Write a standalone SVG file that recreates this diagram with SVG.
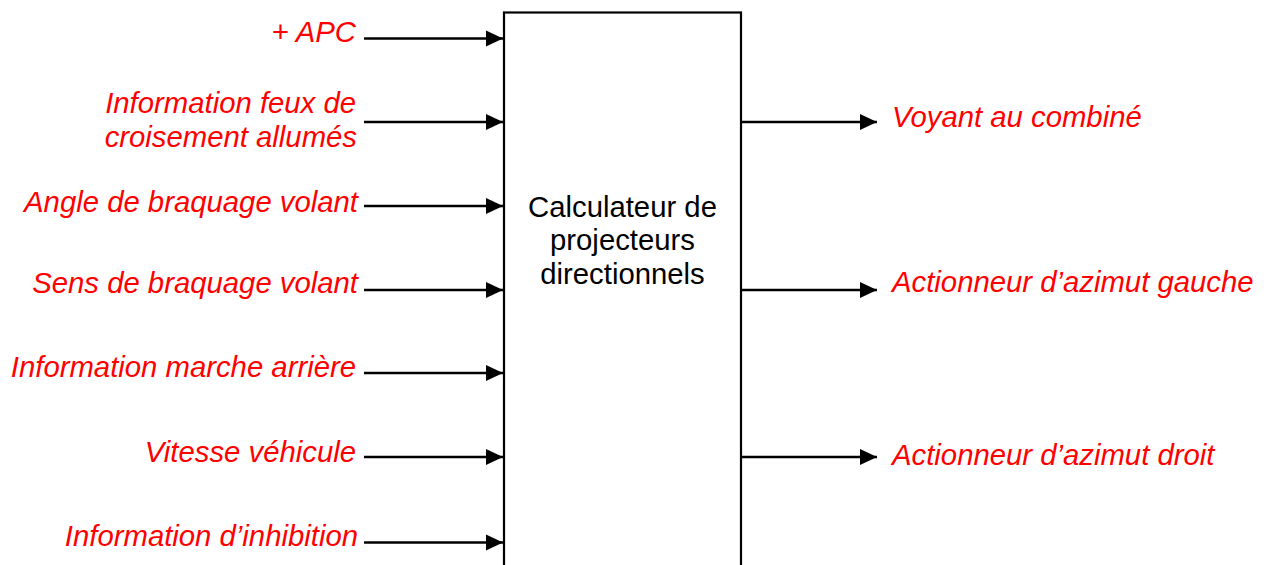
<svg xmlns="http://www.w3.org/2000/svg" width="1268" height="565" viewBox="0 0 1268 565">
<style>
.lbl{font-family:"Liberation Sans",Arial,sans-serif;font-style:italic;font-size:29.3px;fill:#FF0000}
.in{text-anchor:end}
.box{fill:#FFFFFF;stroke:#000000;stroke-width:2.2}
.boxtxt{font-family:"Liberation Sans",Arial,sans-serif;font-size:29.3px;fill:#000000;text-anchor:middle}
.conn{stroke:#000000;stroke-width:2.6;fill:none;marker-end:url(#arr)}
</style>
<defs>
<marker id="arr" markerUnits="userSpaceOnUse" markerWidth="17" markerHeight="16" refX="17" refY="8" orient="auto" viewBox="0 0 17 16" overflow="visible">
<path d="M0,0 L17,8 L0,16 Z" fill="#000000"/>
</marker>
</defs>
<rect width="1268" height="565" fill="#FFFFFF"/>
<g id="node-calculateur">
<rect class="box" x="504" y="12.5" width="237" height="600"/>
<text class="boxtxt" x="622.5" y="216.7">Calculateur de</text>
<text class="boxtxt" x="622.5" y="250.2">projecteurs</text>
<text class="boxtxt" x="622.5" y="283.7">directionnels</text>
</g>
<g id="connectors">
<line class="conn" x1="364" y1="38.5" x2="503" y2="38.5"/>
<line class="conn" x1="364" y1="122" x2="503" y2="122"/>
<line class="conn" x1="364" y1="206" x2="503" y2="206"/>
<line class="conn" x1="364" y1="290" x2="503" y2="290"/>
<line class="conn" x1="364" y1="373" x2="503" y2="373"/>
<line class="conn" x1="364" y1="457" x2="503" y2="457"/>
<line class="conn" x1="364" y1="542.5" x2="503" y2="542.5"/>
<line class="conn" x1="741" y1="122" x2="877" y2="122"/>
<line class="conn" x1="741" y1="290" x2="877" y2="290"/>
<line class="conn" x1="741" y1="457" x2="877" y2="457"/>
</g>
<g id="in-apc"><text class="lbl in" x="356" y="41.7">+ APC</text></g>
<g id="in-feux"><text class="lbl in" x="356" y="113.3">Information feux de</text><text class="lbl in" x="357" y="146.7">croisement allumés</text></g>
<g id="in-angle"><text class="lbl in" x="358" y="211.5">Angle de braquage volant</text></g>
<g id="in-sens"><text class="lbl in" x="358" y="293.3">Sens de braquage volant</text></g>
<g id="in-marche"><text class="lbl in" x="356" y="376.7">Information marche arrière</text></g>
<g id="in-vitesse"><text class="lbl in" x="356" y="461.7">Vitesse véhicule</text></g>
<g id="in-inhibition"><text class="lbl in" x="358" y="545.5">Information d’inhibition</text></g>
<g id="out-voyant"><text class="lbl" x="892" y="127.3">Voyant au combiné</text></g>
<g id="out-gauche"><text class="lbl" x="892" y="292.3">Actionneur d’azimut gauche</text></g>
<g id="out-droit"><text class="lbl" x="892" y="465">Actionneur d’azimut droit</text></g>
</svg>
